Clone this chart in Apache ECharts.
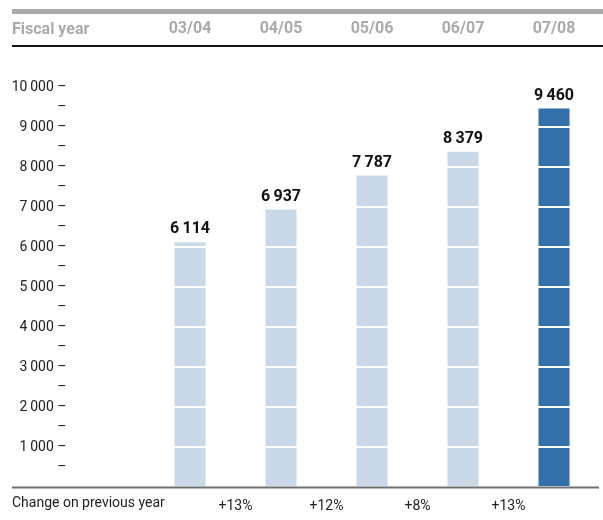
<!DOCTYPE html>
<html><head><meta charset="utf-8">
<script src="https://cdn.jsdelivr.net/npm/echarts@6/dist/echarts.min.js"></script>
<style>html,body{margin:0;padding:0;background:#fff}#c{width:603px;height:520px}</style>
</head><body><div id="c"></div>
<script>
const years = ['03/04', '04/05', '05/06', '06/07', '07/08'];
const values = [6114, 6937, 7787, 8379, 9460];
const changes = ['+13%', '+12%', '+8%', '+13%'];
const headerTitle = 'Fiscal year';
const footerTitle = 'Change on previous year';

const FONT = '"Roboto", "Liberation Sans", sans-serif';
function fmtNum(v) { return String(v).replace(/\B(?=(\d{3})+(?!\d))/g, '\u2009'); }

// half-step category axis for change labels (between bars)
const halfCats = [];
for (let i = 0; i <= years.length * 2; i++) {
  if (i % 2 === 0 && i > 0 && i < years.length * 2) halfCats.push(changes[i / 2 - 1]);
  else halfCats.push('h' + i);
}

const gridLeft = 144.5, gridTop = 87, gridBottom = 33, gridRight = 3.5;
const chart = echarts.init(document.getElementById('c'), null, {renderer: 'canvas'});
chart.setOption({
  animation: false,
  grid: {left: gridLeft, right: gridRight, top: gridTop, bottom: gridBottom},
  xAxis: [{
    type: 'category', data: years, position: 'top', offset: 50,
    axisLine: {show: false}, axisTick: {show: false},
    axisLabel: {color: '#aaaaaa', fontFamily: FONT, fontWeight: 'bold', fontSize: 16, margin: 0}
  }, {
    type: 'category', data: halfCats, boundaryGap: false, position: 'bottom',
    axisLine: {show: false}, axisTick: {show: false},
    axisLabel: {interval: 0, color: '#222', fontFamily: FONT, fontSize: 14, margin: 12,
      formatter: v => (v.charAt(0) === 'h' ? '' : v)}
  }],
  yAxis: [{
    type: 'value', min: 0, max: 10000, interval: 1000, z: 5,
    axisLine: {show: false}, axisTick: {show: false},
    splitLine: {show: true, lineStyle: {color: '#ffffff', width: 2}},
    axisLabel: {
      margin: 78, color: '#222', fontFamily: FONT, fontSize: 14,
      formatter: v => (v === 0 ? '' : fmtNum(v) + ' \u2013')
    }
  }, {
    type: 'value', min: 0, max: 10000, interval: 500, position: 'left', offset: 0,
    axisLine: {show: false}, axisTick: {show: false}, splitLine: {show: false},
    axisLabel: {
      margin: 78, color: '#222', fontFamily: FONT, fontSize: 14,
      formatter: v => (v % 1000 === 500 ? '\u2013' : '')
    }
  }],
  series: [{
    type: 'bar', barWidth: 31, xAxisIndex: 0, yAxisIndex: 0, z: 2,
    data: values.map((v, i) => ({
      value: v,
      itemStyle: {color: i === values.length - 1 ? '#336fa8' : '#c9d9e8'}
    }))
  }, {
    type: 'bar', barWidth: 31, barGap: '-100%', xAxisIndex: 0, yAxisIndex: 0, z: 10,
    silent: true,
    itemStyle: {color: 'rgba(0,0,0,0)'},
    data: values,
    label: {show: true, position: 'top', distance: 5, color: '#111', fontFamily: FONT,
      fontWeight: 'bold', fontSize: 16, formatter: p => fmtNum(p.value)}
  }],
  graphic: [
    {type: 'rect', shape: {x: 12, y: 9, width: 591, height: 5}, style: {fill: '#aaaaaa'}},
    {type: 'text', left: 12, top: 22, style: {text: headerTitle, fill: '#aaaaaa', font: 'bold 16px ' + FONT}},
    {type: 'rect', shape: {x: 12, y: 45, width: 591, height: 2}, style: {fill: '#111111'}},
    {type: 'rect', z: 10, shape: {x: 12, y: 486.5, width: 587, height: 2}, style: {fill: '#707070'}},
    {type: 'text', left: 12, top: 496, style: {text: footerTitle, fill: '#222', font: '14px ' + FONT}}
  ]
});
</script></body></html>
